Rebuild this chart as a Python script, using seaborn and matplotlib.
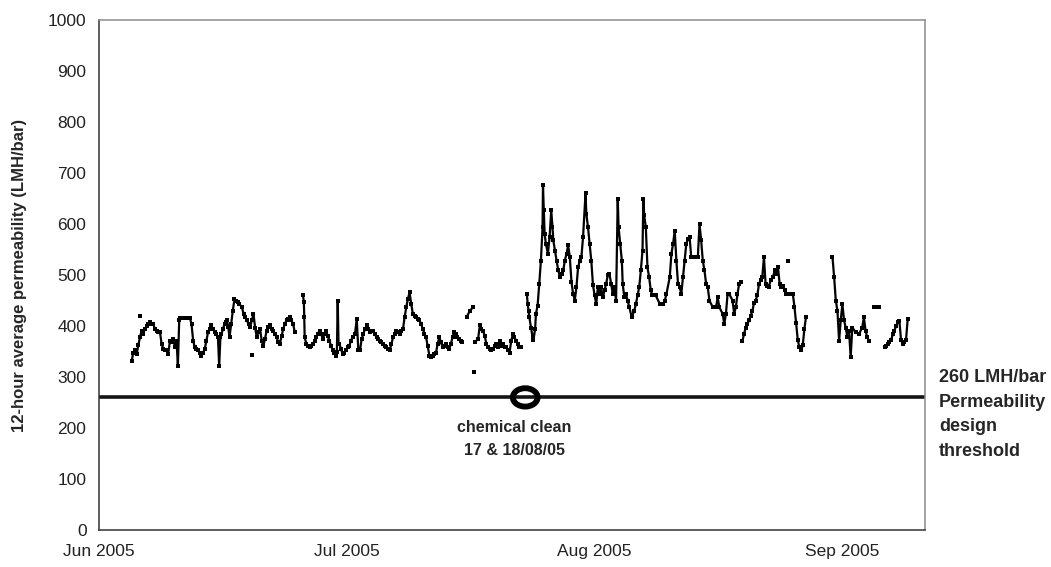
import matplotlib
matplotlib.use("Agg")
import matplotlib.pyplot as plt
from matplotlib.patches import Ellipse
import pandas as pd
import seaborn as sns

# 12-hour average permeability (LMH/bar); x = days after 1 June 2005.
# Each run is a stretch of continuous logging.
jun_day = [3.95, 4.15, 4.35, 4.56, 4.76, 4.96, 5.16, 5.36, 5.56, 5.77, 5.97, 6.17, 6.37, 6.57,
           6.77, 6.97, 7.17, 7.38, 7.58, 7.78, 7.98, 8.18, 8.38, 8.59, 8.79, 8.99, 9.19, 9.39,
           9.55, 9.71, 9.79, 10.2, 10.6, 11.0, 11.2, 11.4, 11.6, 11.8, 12.0, 12.2, 12.4, 12.6,
           12.8, 13.0, 13.2, 13.4, 13.6, 13.8, 14.0, 14.2, 14.4, 14.55, 14.7, 14.83, 15.0, 15.2,
           15.35, 15.5, 15.65, 15.8, 16.0, 16.2, 16.4, 16.6, 16.8, 17.0, 17.3, 17.5, 17.7, 17.9,
           18.1, 18.3, 18.5, 18.7, 18.9, 19.1, 19.3, 19.5, 19.7, 19.9, 20.1, 20.3, 20.5, 20.7,
           20.9, 21.1, 21.3, 21.5, 21.7, 21.9, 22.1, 22.3, 22.5, 22.7, 22.9, 23.1, 23.3, 23.5, 23.7]
jun_perm = [331, 348, 352, 345, 362, 378, 391, 385, 394, 400, 404, 407, 404, 404,
            394, 391, 388, 388, 365, 355, 352, 352, 345, 371, 368, 375, 358, 370,
            322, 411, 416, 416, 416, 416, 404, 371, 358, 355, 352, 348, 342, 348,
            355, 371, 388, 394, 401, 394, 388, 384, 378, 322, 378, 384, 394, 404,
            407, 411, 398, 378, 404, 430, 453, 450, 447, 443, 437, 424, 417, 411,
            404, 398, 411, 424, 397, 378, 388, 394, 371, 361, 375, 391, 398, 401,
            394, 391, 384, 378, 368, 365, 380, 394, 404, 411, 414, 417, 411, 404, 388]

jul_day = [24.7, 24.8, 24.85, 24.9, 25.1, 25.3, 25.5, 25.7, 25.9, 26.1, 26.3, 26.5, 26.7, 26.9,
           27.1, 27.3, 27.5, 27.7, 27.9, 28.1, 28.3, 28.5, 28.7, 28.8, 28.9, 29.0, 29.1, 29.3,
           29.5, 29.7, 29.9, 30.1, 30.3, 30.5, 30.7, 31.0, 31.2, 31.4, 31.6, 31.8, 32.0, 32.2,
           32.4, 32.6, 32.8, 33.0, 33.2, 33.4, 33.6, 33.8, 34.0, 34.2, 34.4, 34.6, 34.8, 35.0,
           35.2, 35.4, 35.6, 35.8, 36.0, 36.2, 36.4, 36.6, 36.8, 37.0, 37.2, 37.4, 37.6, 37.8,
           38.0, 38.2, 38.4, 38.6, 38.8, 39.0, 39.2, 39.4, 39.6, 39.8, 40.0, 40.2, 40.4, 40.6,
           40.8, 41.0, 41.2, 41.4, 41.6, 41.8, 42.0, 42.2, 42.4, 42.6, 42.8, 43.0, 43.2, 43.4,
           43.6, 43.8, 44.0]
jul_perm = [460, 447, 417, 378, 365, 361, 358, 361, 365, 371, 378, 384, 391, 384,
            375, 384, 391, 380, 371, 361, 352, 348, 342, 350, 450, 365, 365, 355,
            345, 348, 352, 358, 361, 371, 378, 385, 414, 352, 352, 375, 384, 394,
            401, 394, 388, 391, 391, 384, 378, 375, 371, 368, 365, 361, 358, 355,
            352, 365, 378, 384, 391, 388, 384, 391, 394, 417, 437, 453, 466, 443,
            424, 420, 417, 414, 411, 404, 394, 385, 378, 360, 342, 340, 342, 345,
            348, 365, 378, 368, 358, 361, 365, 358, 355, 365, 378, 388, 384, 378,
            375, 371, 368]

late_jul_day = [44.5, 44.9, 45.3]
late_jul_perm = [417, 430, 437]

end_jul_day = [45.5, 45.9, 46.1, 46.3, 46.5, 46.7, 46.9, 47.1, 47.3, 47.5, 47.7, 47.9, 48.1,
               48.3, 48.5, 48.7, 48.9, 49.1, 49.3, 49.5, 49.7, 49.9, 50.1, 50.3, 50.5, 50.7,
               50.9, 51.1]
end_jul_perm = [368, 375, 401, 394, 391, 380, 365, 358, 355, 352, 355, 361, 365,
                358, 371, 361, 365, 358, 358, 352, 348, 370, 384, 378, 371, 365,
                358, 358]

aug_day = [51.8, 51.9, 52.0, 52.1, 52.3, 52.5, 52.6, 52.8, 52.9, 53.1, 53.3, 53.5, 53.7, 53.75,
           53.85, 53.95, 54.1, 54.35, 54.55, 54.75, 54.9, 55.0, 55.2, 55.4, 55.6, 55.8, 56.0,
           56.2, 56.4, 56.6, 56.8, 57.0, 57.2, 57.4, 57.6, 57.8, 58.0, 58.2, 58.4, 58.6, 58.9,
           59.0, 59.2, 59.4, 59.6, 59.8, 60.0, 60.2, 60.4, 60.6, 60.8, 61.0, 61.2, 61.4, 61.6,
           61.8, 62.0, 62.2, 62.4, 62.6, 62.8, 62.9, 63.1, 63.3, 63.4, 63.6, 63.8, 64.0, 64.2,
           64.5, 64.8, 65.0, 65.2, 65.4, 65.6, 65.8, 65.9, 66.0, 66.2, 66.4, 66.6, 66.8, 67.0,
           67.4, 67.9, 68.3, 68.5, 68.7, 69.1, 69.3, 69.5, 69.7, 69.9, 70.1, 70.3, 70.5, 70.7,
           70.9, 71.1, 71.3, 71.5, 71.7, 72.1, 72.5, 72.7, 72.9, 73.1, 73.3, 73.5, 73.7, 73.9,
           74.3, 74.7, 74.9, 75.1, 75.5, 75.7, 75.9, 76.1, 76.3, 76.7, 76.9, 77.1, 77.3, 77.5,
           77.7]
aug_perm = [463, 443, 430, 417, 397, 378, 372, 395, 424, 440, 483, 528, 594, 676,
            627, 581, 561, 542, 574, 627, 594, 568, 548, 528, 509, 496, 502,
            509, 528, 542, 558, 535, 486, 463, 450, 476, 515, 528, 535, 574, 660,
            620, 594, 561, 528, 481, 460, 443, 476, 463, 476, 456, 470, 483, 500,
            502, 483, 463, 476, 450, 650, 594, 561, 528, 483, 456, 463, 450, 437,
            417, 430, 443, 460, 476, 509, 548, 650, 617, 594, 515, 496, 470, 460,
            460, 443, 443, 450, 463, 496, 542, 561, 587, 528, 483, 476, 463, 496,
            528, 561, 571, 574, 535, 535, 535, 600, 568, 528, 509, 483, 476, 450,
            437, 437, 456, 437, 424, 404, 424, 463, 463, 450, 424, 437, 463, 483,
            486]

late_aug_day = [77.9, 78.1, 78.3, 78.5, 78.7, 78.9, 79.1, 79.3, 79.5, 79.7, 79.9, 80.1, 80.3,
                80.5, 80.7, 80.9, 81.1, 81.3, 81.6, 81.8, 82.0, 82.2, 82.4, 82.6, 82.8, 83.0,
                83.2, 83.6, 84.0, 84.2, 84.4, 84.6, 84.8, 85.0, 85.2, 85.4, 85.6]
late_aug_perm = [371, 385, 397, 404, 411, 420, 430, 445, 450, 460, 482, 490, 496,
                 535, 483, 478, 476, 490, 496, 509, 502, 515, 483, 476, 478, 470,
                 463, 463, 463, 437, 405, 372, 358, 352, 362, 395, 418]

sep_day = [88.8, 89.0, 89.2, 89.4, 89.6, 89.8, 90.0, 90.2, 90.4, 90.6, 90.8, 91.0, 91.2,
           91.6, 92.0, 92.4, 92.6, 92.8, 93.0, 93.2]
sep_perm = [535, 496, 450, 430, 371, 411, 443, 411, 397, 378, 391, 339, 397,
            388, 384, 397, 417, 391, 378, 371]

mid_sep_day = [93.8, 94.1, 94.4]
mid_sep_perm = [437, 437, 437]

end_sep_day = [95.1, 95.3, 95.5, 95.7, 95.9, 96.1, 96.3, 96.5, 96.7, 96.9, 97.1, 97.3, 97.5,
               97.7, 97.9]
end_sep_perm = [358, 361, 365, 368, 372, 384, 391, 400, 407, 410, 372, 365, 368,
                372, 413]

stray_day = [4.96, 18.5, 45.4, 83.4]
stray_perm = [420, 344, 310, 528]

threshold = 260
clean_day = 51.6

tick_days = [0, 30, 60, 90]
tick_labels = ["Jun 2005", "Jul 2005", "Aug 2005", "Sep 2005"]

runs = [
    (jun_day, jun_perm), (jul_day, jul_perm), (late_jul_day, late_jul_perm),
    (end_jul_day, end_jul_perm), (aug_day, aug_perm), (late_aug_day, late_aug_perm),
    (sep_day, sep_perm), (mid_sep_day, mid_sep_perm), (end_sep_day, end_sep_perm),
]
frames = [pd.DataFrame({"day": d, "perm": p, "run": i}) for i, (d, p) in enumerate(runs)]
df = pd.concat(frames, ignore_index=True)
stray = pd.DataFrame({"day": stray_day, "perm": stray_perm})

sns.set_style("white")
plt.rcParams["font.family"] = ["Liberation Sans", "DejaVu Sans"]

W, H = 1051, 567
fig = plt.figure(figsize=(W / 100, H / 100), dpi=100)
left, right, top, bottom = 99, 925, 20, 530
ax = fig.add_axes([left / W, 1 - bottom / H, (right - left) / W, (bottom - top) / H])

ax.axhline(threshold, color="#151515", lw=2.6, zorder=1)

sns.lineplot(data=df, x="day", y="perm", units="run", estimator=None, sort=False,
             color="black", lw=1.6, ax=ax, legend=False, zorder=3)
sns.scatterplot(data=df, x="day", y="perm", color="black", marker="s", s=5,
                linewidth=0, ax=ax, legend=False, zorder=3)
sns.scatterplot(data=stray, x="day", y="perm", color="black", marker="s", s=5,
                linewidth=0, ax=ax, legend=False, zorder=3)

ax.add_patch(Ellipse((clean_day, threshold), width=3.0, height=36, fill=False,
                     ec="black", lw=4.2, zorder=4))
ax.text(clean_day - 1.3, threshold - 45, "chemical clean\n17 & 18/08/05", ha="center", va="top",
        fontsize=11.5, fontweight="bold", linespacing=1.65)

ax.set_xlim(0, 100)
ax.set_ylim(0, 1000)
ax.set_xticks(tick_days)
ax.set_xticklabels(tick_labels)
ax.set_yticks(range(0, 1001, 100))
ax.tick_params(axis="both", direction="out", length=5, width=1, color="#333333",
               labelsize=12.5, labelcolor="#222222", pad=4)
ax.tick_params(axis="x", pad=5)
ax.set_xlabel("")
ax.set_ylabel("12-hour average permeability (LMH/bar)", fontsize=12, fontweight="bold",
              labelpad=15)

for side in ["left", "bottom"]:
    ax.spines[side].set_color("#333333")
    ax.spines[side].set_linewidth(1.1)
for side in ["top", "right"]:
    ax.spines[side].set_color("#8c8c8c")
    ax.spines[side].set_linewidth(1.1)

fig.text(939 / W, 1 - 369 / H, "260 LMH/bar\nPermeability\ndesign\nthreshold",
         ha="left", va="top", fontsize=13, fontweight="bold", linespacing=1.58)

fig.savefig("out.png", dpi=100, facecolor="white")
